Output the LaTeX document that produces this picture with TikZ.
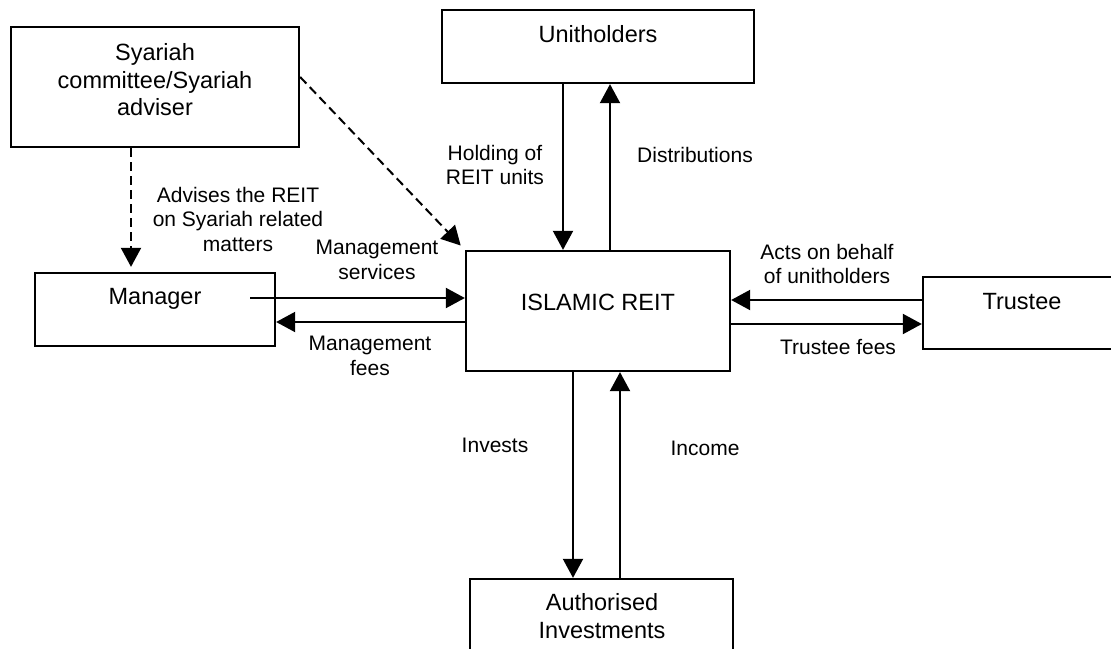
\documentclass[tikz,border=0pt]{standalone}
\usepackage{fontspec}
\setmainfont{Liberation Sans}
\usetikzlibrary{arrows.meta}
\begin{document}
\begin{tikzpicture}[x=1pt,y=-1pt,
  box/.style={draw=black,line width=2.3pt,rectangle,inner sep=0pt},
  boxtext/.style={align=center,inner sep=0pt,font=\fontsize{23.5}{27.5}\selectfont},
  lab/.style={align=center,inner sep=0pt,font=\fontsize{21}{24.5}\selectfont},
  arr/.style={line width=2pt,-{Triangle[length=19pt,width=20pt]}},
  darr/.style={arr,dash pattern=on 9pt off 5pt}]
\useasboundingbox (0,0) rectangle (1111,648);
\clip (0,0) rectangle (1111,648);
% boxes
\node[box,minimum width=288pt,minimum height=120pt] (sy) at (155,87) {};
\node[box,minimum width=312pt,minimum height=73pt] (uh) at (598,46.5) {};
\node[box,minimum width=240pt,minimum height=73pt] (mg) at (155,309.5) {};
\node[box,minimum width=264pt,minimum height=120pt] (reit) at (598,311) {};
\node[box,minimum width=217pt,minimum height=72pt] (tr) at (1031.5,313) {};
\node[box,minimum width=263pt,minimum height=81pt] (ai) at (601.5,619.5) {};
% box texts
\node[boxtext] (syt) at (155,80) {Syariah\\committee/Syariah\\adviser};
\node[boxtext] (uht) at (598,34) {Unitholders};
\node[boxtext] (mgt) at (155,299) {Manager};
\node[boxtext] (reitt) at (598,302) {ISLAMIC REIT};
\node[boxtext] (trt) at (1022,302) {Trustee};
\node[boxtext] (ait) at (602,616) {Authorised\\Investments};
% connectors
\draw[darr,shorten >=5pt] (sy.south -| 131,0) -- (mg.north -| 131,0);
\draw[darr,shorten >=6pt] (sy.east |- 0,77) -- (reit.north west);
\draw[arr] (uh.south -| 563,0) -- (reit.north -| 563,0);
\draw[arr] (reit.north -| 610,0) -- (uh.south -| 610,0);
\coordinate (msstart) at (250,298);
\draw[arr] (msstart) -- (reit.west |- msstart);
\draw[arr] (reit.west |- 0,322) -- (mg.east |- 0,322);
\draw[arr] (tr.west |- 0,300) -- (reit.east |- 0,300);
\draw[arr] (reit.east |- 0,324) -- (tr.west |- 0,324);
\draw[arr] (reit.south -| 573,0) -- (ai.north -| 573,0);
\draw[arr] (ai.north -| 620,0) -- (reit.south -| 620,0);
% labels
\node[lab] (l1) at (238,219) {Advises the REIT\\on Syariah related\\matters};
\node[lab] (l2) at (377,260) {Management\\services};
\node[lab] (l3) at (370,356) {Management\\fees};
\node[lab] (l4) at (495,165) {Holding of\\REIT units};
\node[lab] (l5) at (695,155) {Distributions};
\node[lab] (l6) at (827,264) {Acts on behalf\\of unitholders};
\node[lab] (l7) at (838,347) {Trustee fees};
\node[lab] (l8) at (495,445) {Invests};
\node[lab] (l9) at (705,448) {Income};
\end{tikzpicture}
\end{document}
